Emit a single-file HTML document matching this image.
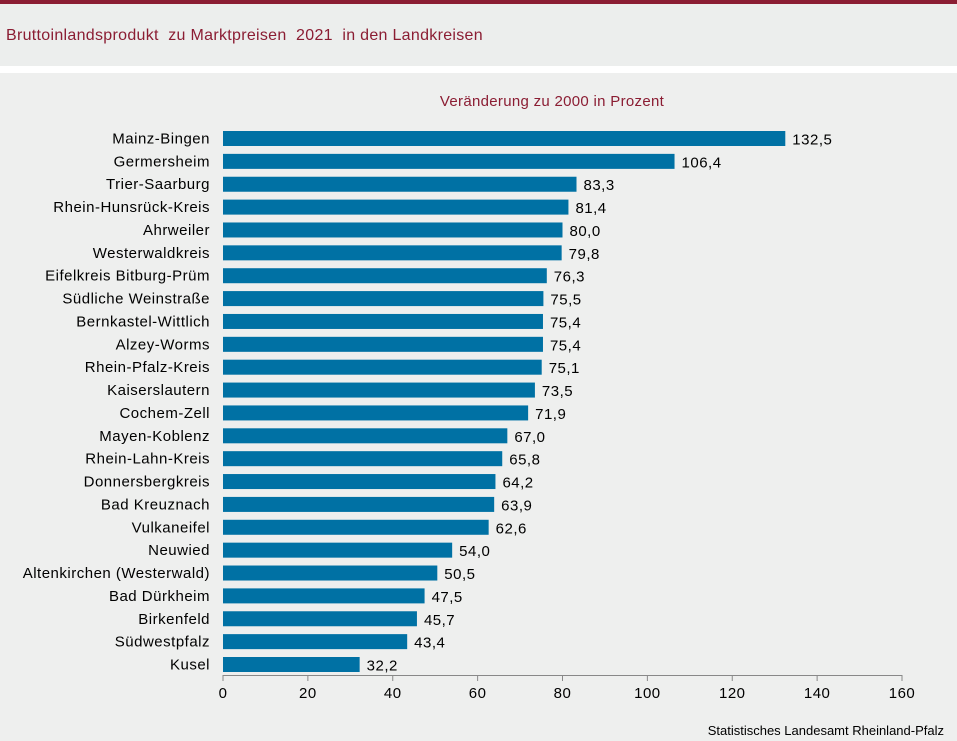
<!DOCTYPE html>
<html><head><meta charset="utf-8"><style>
body{margin:0;width:957px;height:741px;overflow:hidden;background:#eeefee;font-family:"Liberation Sans",Arial,sans-serif}
#top{position:absolute;left:0;top:0;width:957px;height:4px;background:#8b1d33}
#head{position:absolute;left:0;top:4px;width:957px;height:62px;background:#eceeed}
#sep{position:absolute;left:0;top:66px;width:957px;height:7px;background:#fff}
#title{position:absolute;left:6px;top:27px;font-size:16px;letter-spacing:0.3px;color:#8b1d33}
svg{position:absolute;left:0;top:0}
</style></head><body>
<div id="top"></div>
<div id="head"></div>
<div id="title">Bruttoinlandsprodukt&nbsp; zu Marktpreisen&nbsp; 2021&nbsp; in den Landkreisen</div>
<div id="sep"></div>
<svg id="chart" width="957" height="741">
<text x="552" y="106" font-size="15" letter-spacing="0.3" fill="#8b1d33" text-anchor="middle">Veränderung zu 2000 in Prozent</text>
<text x="944" y="735" font-size="13" fill="#000" text-anchor="end">Statistisches Landesamt Rheinland-Pfalz</text>
</svg>
<script>
const categories=["Mainz-Bingen","Germersheim","Trier-Saarburg","Rhein-Hunsrück-Kreis","Ahrweiler","Westerwaldkreis","Eifelkreis Bitburg-Prüm","Südliche Weinstraße","Bernkastel-Wittlich","Alzey-Worms","Rhein-Pfalz-Kreis","Kaiserslautern","Cochem-Zell","Mayen-Koblenz","Rhein-Lahn-Kreis","Donnersbergkreis","Bad Kreuznach","Vulkaneifel","Neuwied","Altenkirchen (Westerwald)","Bad Dürkheim","Birkenfeld","Südwestpfalz","Kusel"];
const values=[132.5,106.4,83.3,81.4,80.0,79.8,76.3,75.5,75.4,75.4,75.1,73.5,71.9,67.0,65.8,64.2,63.9,62.6,54.0,50.5,47.5,45.7,43.4,32.2];
const ticks=[0,20,40,60,80,100,120,140,160];
const svg=document.getElementById('chart');const NS='http://www.w3.org/2000/svg';
const x0=223,x1=902,xmax=160;
const xs=v=>x0+(x1-x0)*v/xmax;
const yTop=138.5,step=(664.5-138.5)/(categories.length-1);
const yc=i=>yTop+i*step;
function mk(t,a){const e=document.createElementNS(NS,t);for(const k in a)e.setAttribute(k,a[k]);svg.appendChild(e);return e;}
categories.forEach((c,i)=>{
 const r=mk('rect',{x:x0,y:yc(i)-7.5,width:xs(values[i])-x0,height:15,fill:'#0071a4'});
 
 
 const l=mk('text',{x:210,y:yc(i)+5,'font-size':15,'letter-spacing':0.5,'text-anchor':'end',fill:'#000'});l.textContent=c;
 
 
 const v=mk('text',{x:xs(values[i])+7,y:yc(i)+6,'font-size':15,'letter-spacing':0.5,fill:'#000'});v.textContent=values[i].toFixed(1).replace('.',',');
 
 
});
const ax=mk('line',{x1:x0,x2:x1,y1:675.5,y2:675.5,stroke:'#888'});


ticks.forEach(t=>{
 const tk=mk('line',{x1:xs(t),x2:xs(t),y1:675,y2:681,stroke:'#888'});
 
 
 const tl=mk('text',{x:xs(t),y:698,'font-size':15,'letter-spacing':0.5,'text-anchor':'middle',fill:'#000'});tl.textContent=t;
 
 
});
</script>
</body></html>
